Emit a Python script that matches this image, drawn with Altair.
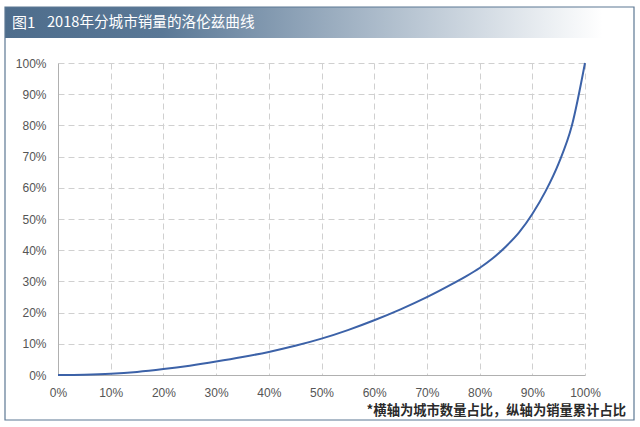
import altair as alt
import pandas as pd

city_share = [0, 5, 10, 15, 20, 25, 30, 35, 40, 45, 50, 55, 60, 65, 70, 75, 77.5, 80, 82.5, 85, 87.5, 90, 92.5, 95, 97.5, 100]
sales_cum = [0, 0.1, 0.4, 1.0, 1.9, 3.0, 4.3, 5.75, 7.4, 9.35, 11.65, 14.4, 17.55, 21.05, 24.95, 29.35,
             31.7, 34.3, 37.4, 41.2, 45.7, 51.6, 58.85, 67.85, 79.85, 100]
tick_values = [0, 10, 20, 30, 40, 50, 60, 70, 80, 90, 100]
title_fig = "图1"
title_text = "2018年分城市销量的洛伦兹曲线"
note_text = "*横轴为城市数量占比，纵轴为销量累计占比"

df = pd.DataFrame({"x": city_share, "y": sales_cum})

W, H = 527, 312
PL, PT, PR, PB = 58, 63, 55, 52

font = "Liberation Sans"
cjk = "Noto Sans CJK SC"

xs = alt.Scale(domain=[0, 100], nice=False)
ys = alt.Scale(domain=[0, 100], nice=False)

line = alt.Chart(df).mark_line(color="#3c62a8", strokeWidth=2, interpolate="monotone").encode(
    x=alt.X("x:Q", scale=xs,
            axis=alt.Axis(values=tick_values, labelExpr="datum.value + '%'", title=None,
                          grid=True, gridDash=[6, 4], gridColor="#d0d0d0",
                          domainColor="#b0b0b0", ticks=False, labelPadding=12, labelFlush=False,
                          labelFont=font, labelFontSize=12, labelColor="#555555")),
    y=alt.Y("y:Q", scale=ys,
            axis=alt.Axis(values=tick_values, labelExpr="datum.value + '%'", title=None,
                          grid=True, gridDash=[6, 4], gridColor="#d0d0d0",
                          domainColor="#b0b0b0", ticks=False, labelPadding=12, labelFlush=False,
                          labelFont=font, labelFontSize=12, labelColor="#555555")),
)

frame = alt.Chart(pd.DataFrame({"a": [0]})).mark_rect(
    filled=False, stroke="#5d7893", strokeWidth=1.2
).encode(
    x=alt.value(5 - PL), x2=alt.value(634 - PL),
    y=alt.value(7 - PT), y2=alt.value(420 - PT),
)

header = alt.Chart(pd.DataFrame({"a": [0]})).mark_rect(
    color=alt.Gradient(
        gradient="linear", x1=0, y1=0, x2=1, y2=0,
        stops=[alt.GradientStop(color="#4e6d8c", offset=0),
               alt.GradientStop(color="#5a7896", offset=0.25),
               alt.GradientStop(color="#b9c6d3", offset=0.65),
               alt.GradientStop(color="#ffffff", offset=0.95)]
    )
).encode(
    x=alt.value(5 - PL), x2=alt.value(634 - PL),
    y=alt.value(7 - PT), y2=alt.value(38 - PT),
)

title1 = alt.Chart(pd.DataFrame({"t": [title_fig]})).mark_text(
    align="left", baseline="middle", font=cjk, fontSize=15, color="white"
).encode(
    x=alt.value(12 - PL), y=alt.value(23 - PT), text="t:N"
)

title2 = alt.Chart(pd.DataFrame({"t": [title_text]})).mark_text(
    align="left", baseline="middle", font=cjk, fontSize=14.6, color="white"
).encode(
    x=alt.value(47 - PL), y=alt.value(23 - PT), text="t:N"
)

note = alt.Chart(pd.DataFrame({"t": [note_text]})).mark_text(
    align="right", baseline="middle", font=cjk, fontSize=13.3, fontWeight="bold", color="#2a2a2a"
).encode(
    x=alt.value(626 - PL), y=alt.value(411 - PT), text="t:N"
)

chart = alt.layer(header, frame, title1, title2, line, note).properties(
    width=W, height=H,
    padding={"left": PL, "top": PT, "right": PR, "bottom": PB},
    autosize=alt.AutoSizeParams(type="none"),
    background="white",
).configure_view(stroke=None)

chart.save("out.html", embed_options={"renderer": "svg", "actions": False})
